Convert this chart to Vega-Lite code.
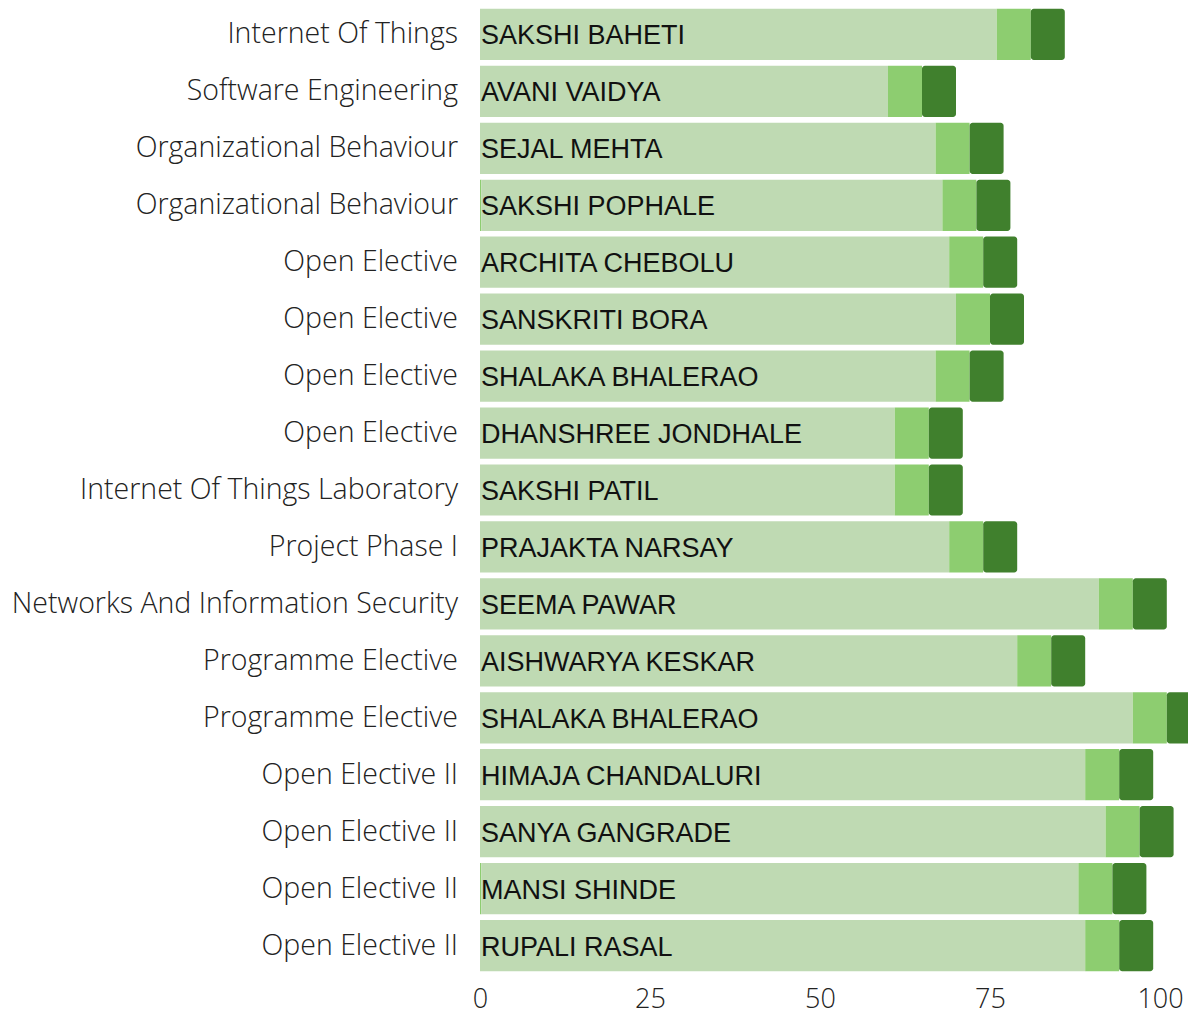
{
  "$schema": "https://vega.github.io/schema/vega-lite/v6.json",
  "width": 680,
  "height": 968,
  "autosize": {"type": "none"},
  "padding": {"left": 480, "top": 6, "right": 28, "bottom": 41},
  "background": "white",
  "config": {"view": {"stroke": null}},
  "data": {
    "values": [
      {"row": 1, "subject": "Internet Of Things", "name": "SAKSHI BAHETI", "extra": 0, "light": 76, "mid": 5, "dark": 5},
      {"row": 2, "subject": "Software Engineering", "name": "AVANI VAIDYA", "extra": 0, "light": 60, "mid": 5, "dark": 5},
      {"row": 3, "subject": "Organizational Behaviour", "name": "SEJAL MEHTA", "extra": 0, "light": 67, "mid": 5, "dark": 5},
      {"row": 4, "subject": "Organizational Behaviour", "name": "SAKSHI POPHALE", "extra": 0.2, "light": 67.8, "mid": 5, "dark": 5},
      {"row": 5, "subject": "Open Elective", "name": "ARCHITA CHEBOLU", "extra": 0, "light": 69, "mid": 5, "dark": 5},
      {"row": 6, "subject": "Open Elective", "name": "SANSKRITI BORA", "extra": 0, "light": 70, "mid": 5, "dark": 5},
      {"row": 7, "subject": "Open Elective", "name": "SHALAKA BHALERAO", "extra": 0, "light": 67, "mid": 5, "dark": 5},
      {"row": 8, "subject": "Open Elective", "name": "DHANSHREE JONDHALE", "extra": 0, "light": 61, "mid": 5, "dark": 5},
      {"row": 9, "subject": "Internet Of Things Laboratory", "name": "SAKSHI PATIL", "extra": 0, "light": 61, "mid": 5, "dark": 5},
      {"row": 10, "subject": "Project Phase I", "name": "PRAJAKTA NARSAY", "extra": 0, "light": 69, "mid": 5, "dark": 5},
      {"row": 11, "subject": "Networks And Information Security", "name": "SEEMA PAWAR", "extra": 0, "light": 91, "mid": 5, "dark": 5},
      {"row": 12, "subject": "Programme Elective", "name": "AISHWARYA KESKAR", "extra": 0, "light": 79, "mid": 5, "dark": 5},
      {"row": 13, "subject": "Programme Elective", "name": "SHALAKA BHALERAO", "extra": 0, "light": 96, "mid": 5, "dark": 5},
      {"row": 14, "subject": "Open Elective II", "name": "HIMAJA CHANDALURI", "extra": 0, "light": 89, "mid": 5, "dark": 5},
      {"row": 15, "subject": "Open Elective II", "name": "SANYA GANGRADE", "extra": 0, "light": 92, "mid": 5, "dark": 5},
      {"row": 16, "subject": "Open Elective II", "name": "MANSI SHINDE", "extra": 0.2, "light": 87.8, "mid": 5, "dark": 5},
      {"row": 17, "subject": "Open Elective II", "name": "RUPALI RASAL", "extra": 0, "light": 89, "mid": 5, "dark": 5}
    ]
  },
  "encoding": {
    "y": {
      "field": "row",
      "type": "ordinal",
      "axis": null,
      "scale": {"paddingInner": 0.1, "paddingOuter": 0.05}
    }
  },
  "layer": [
    {
      "transform": [
        {"fold": ["extra", "light", "mid", "dark"], "as": ["part", "value"]},
        {"calculate": "indexof(['extra','light','mid','dark'], datum.part)", "as": "ord"},
        {"stack": "value", "groupby": ["row"], "sort": [{"field": "ord"}], "as": ["x0", "x1"]},
        {"filter": "datum.part != 'dark'"}
      ],
      "mark": {"type": "bar"},
      "encoding": {
        "x": {
          "field": "x0",
          "type": "quantitative",
          "scale": {"domain": [0, 100], "nice": false, "zero": true},
          "axis": {
            "values": [0, 25, 50, 75, 100],
            "domain": false,
            "ticks": false,
            "grid": false,
            "title": null,
            "labelFlush": false,
            "labelFont": "Open Sans",
            "labelFontWeight": 300,
            "labelFontSize": 27,
            "labelColor": "#222222",
            "labelPadding": 12
          }
        },
        "x2": {"field": "x1"},
        "color": {
          "field": "part",
          "type": "nominal",
          "legend": null,
          "scale": {
            "domain": ["extra", "light", "mid", "dark"],
            "range": ["#8dcd70", "#bfdab3", "#8dcd70", "#40802d"]
          }
        }
      }
    },
    {
      "transform": [
        {"fold": ["extra", "light", "mid", "dark"], "as": ["part", "value"]},
        {"calculate": "indexof(['extra','light','mid','dark'], datum.part)", "as": "ord"},
        {"stack": "value", "groupby": ["row"], "sort": [{"field": "ord"}], "as": ["x0", "x1"]},
        {"filter": "datum.part == 'dark'"}
      ],
      "mark": {"type": "bar", "cornerRadiusEnd": 3},
      "encoding": {
        "x": {"field": "x0", "type": "quantitative"},
        "x2": {"field": "x1"},
        "color": {"field": "part", "type": "nominal", "legend": null}
      }
    },
    {
      "mark": {
        "type": "text",
        "align": "left",
        "baseline": "middle",
        "dx": 1,
        "dy": 2,
        "font": "Liberation Sans",
        "fontSize": 27,
        "color": "#111111"
      },
      "encoding": {
        "x": {"datum": 0, "type": "quantitative"},
        "text": {"field": "name"}
      }
    },
    {
      "mark": {
        "type": "text",
        "align": "right",
        "baseline": "middle",
        "dx": -22,
        "font": "Open Sans",
        "fontWeight": 300,
        "fontSize": 28.5,
        "color": "#222222"
      },
      "encoding": {
        "x": {"datum": 0, "type": "quantitative"},
        "text": {"field": "subject"}
      }
    }
  ]
}
